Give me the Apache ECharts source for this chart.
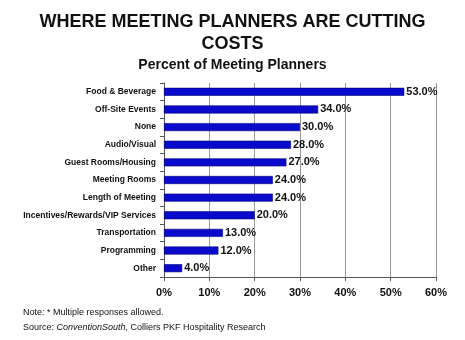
<!DOCTYPE html>
<html><head><meta charset="utf-8">
<script src="https://cdn.jsdelivr.net/npm/echarts@6/dist/echarts.min.js"></script>
<style>html,body{margin:0;padding:0;background:#fff}#c{width:465px;height:340px}</style>
</head><body><div id="c"></div>
<script>
const categories = ["Food & Beverage","Off-Site Events","None","Audio/Visual","Guest Rooms/Housing","Meeting Rooms","Length of Meeting","Incentives/Rewards/VIP Services","Transportation","Programming","Other"];
const values = [53,34,30,28,27,24,24,20,13,12,4];
const xTicks = [0,10,20,30,40,50,60];

const chart = echarts.init(document.getElementById('c'));
const F = 'Arial, "Liberation Sans", sans-serif';
chart.setOption({
  backgroundColor:'#fff',
  animation:false,
  title:[
    {text:'WHERE MEETING PLANNERS ARE CUTTING\nCOSTS', left:'center', top:6,
     textStyle:{fontFamily:F,fontSize:18,fontWeight:'bold',color:'#111',lineHeight:22}},
    {text:'Percent of Meeting Planners', left:'center', top:53,
     textStyle:{fontFamily:F,fontSize:14,fontWeight:'bold',color:'#111'}},
    {text:'Note: * Multiple responses allowed.', left:18, top:303,
     textStyle:{fontFamily:F,fontSize:9,fontWeight:'normal',color:'#111'}},
    {text:'{n|Source: }{i|ConventionSouth}{n|, Colliers PKF Hospitality Research}', left:18, top:318,
     textStyle:{fontWeight:'normal',rich:{n:{fontFamily:F,fontSize:9,fontWeight:'normal',color:'#111'},i:{fontFamily:F,fontSize:9,fontWeight:'normal',fontStyle:'italic',color:'#111'}}}}
  ],
  grid:{left:164,right:29,top:83,bottom:63,containLabel:false},
  xAxis:{type:'value',min:0,max:60,interval:10,
    axisLine:{show:true,lineStyle:{color:'#555'}},
    axisTick:{show:true,lineStyle:{color:'#555'},length:4},
    splitLine:{show:true,lineStyle:{color:'#999'}},
    axisLabel:{fontFamily:F,fontSize:11,fontWeight:'bold',color:'#111',margin:10,
      formatter:v=>xTicks.includes(v)?v+'%':''}},
  yAxis:{type:'category',data:categories,inverse:true,
    axisLine:{show:true,lineStyle:{color:'#555'}},
    axisTick:{show:true,lineStyle:{color:'#555'},length:4,inside:false},
    axisLabel:{fontFamily:F,fontSize:8.5,fontWeight:'bold',color:'#111',margin:8}},
  series:[{type:'bar',data:values,barWidth:8,
    itemStyle:{color:'#0a0acc',borderColor:'#00007a',borderWidth:0.6},
    label:{show:true,position:'right',distance:2,fontFamily:F,fontSize:11,fontWeight:'bold',color:'#111',
      formatter:p=>p.value.toFixed(1)+'%'}}]
});
</script></body></html>
